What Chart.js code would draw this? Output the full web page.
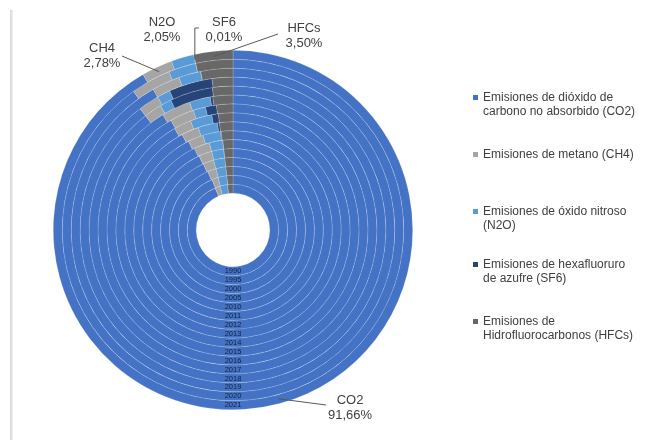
<!DOCTYPE html>
<html><head><meta charset="utf-8">
<script src="https://cdn.jsdelivr.net/npm/chart.js@4.4.1/dist/chart.umd.min.js"></script>
<style>
html,body{margin:0;padding:0;background:#fff;}
#wrap{position:relative;width:667px;height:440px;overflow:hidden;background:#fff;font-family:"Liberation Sans",Arial,sans-serif;}
#edge{position:absolute;left:10px;top:10px;width:3px;height:440px;background:linear-gradient(to right,#d4d4d4,#f2f2f2);}
canvas{position:absolute;left:0;top:0;}
.item{position:absolute;left:473px;font-size:12px;line-height:14px;color:#404040;padding-left:10px;white-space:nowrap;}
.item i{position:absolute;left:0;top:5px;width:5px;height:5px;}
</style></head>
<body><div id="wrap"><div id="edge"></div><canvas id="c" width="667" height="440"></canvas><div id="legend"></div></div>
<script>
// ---- data (percent shares per year) ----
const years = ['1990','1995','2000','2005','2010','2011','2012','2013','2014','2015','2016','2017','2018','2019','2020','2021'];
const gases = ['CO2','CH4','N2O','SF6','HFCs'];
const legendLabels = [
  ['Emisiones de dióxido de','carbono no absorbido (CO2)'],
  ['Emisiones de metano (CH4)'],
  ['Emisiones de óxido nitroso','(N2O)'],
  ['Emisiones de hexafluoruro','de azufre (SF6)'],
  ['Emisiones de','Hidrofluorocarbonos (HFCs)']
];
const hfcs = [1.90,1.80,1.80,1.80,1.80,1.80,1.90,2.00,2.00,2.10,2.40,2.30,2.20,3.20,3.50,3.50];
const sf6  = [0.00,0.00,0.00,0.00,0.02,0.02,0.10,0.30,0.90,1.40,0.30,4.80,4.60,0.01,0.01,0.01];
const n2o  = [2.70,2.60,2.50,2.50,2.40,2.40,2.90,2.90,3.00,1.60,2.50,1.30,1.40,2.20,2.60,2.05];
const ch4  = [1.80,1.90,2.20,2.40,2.60,2.80,2.50,2.60,2.40,3.10,3.50,2.00,2.20,2.80,3.80,2.78];
const co2  = [93.60,93.70,93.50,93.30,93.18,92.98,92.60,92.20,91.70,91.80,91.30,89.60,89.60,91.79,90.09,91.66];

const colors = ['#4472C4','#A5A5A5','#5B9BD5','#264478','#686868'];

// datasets: Chart.js draws the first dataset outermost -> newest year first
const datasets = years.map((y,i)=>({
  label: y,
  data: [co2[i], ch4[i], n2o[i], sf6[i], hfcs[i]],
  backgroundColor: colors,
  borderColor: 'rgba(255,255,255,0.28)',
  borderWidth: 0.6
})).reverse();

// legend (HTML)
const legendTops = [90,147,204,257,314];
const lg = document.getElementById('legend');
legendLabels.forEach((lines,k)=>{
  const d = document.createElement('div');
  d.className='item'; d.style.top = legendTops[k]+'px';
  d.innerHTML = '<i style="background:'+colors[k]+'"></i>'+lines.join('<br>');
  lg.appendChild(d);
});

const fmt = v => v.toFixed(2).replace('.',',')+'%';
// callout text positions (layout), anchors come from arcs
const callouts = {
  0:{x:350,y:400,line:'straight',from:[326,405]},
  1:{x:102,y:48,line:'straight',from:[122,56]},
  2:{x:162,y:22,line:null},
  3:{x:224,y:22,line:'bracket'},
  4:{x:304,y:28,line:'straight',from:[278,34]}
};

const labelPlugin = {
  id:'labels',
  afterDatasetsDraw(chart){
    const ctx = chart.ctx;
    ctx.save();
    // year labels at the bottom of each ring
    ctx.font = '7.5px "Liberation Sans", Arial, sans-serif';
    ctx.fillStyle = '#18223a';
    ctx.textAlign='center'; ctx.textBaseline='middle';
    chart.data.datasets.forEach((ds,di)=>{
      const a = chart.getDatasetMeta(di).data[0];
      const r = (a.innerRadius + a.outerRadius)/2;
      ctx.fillText(ds.label, a.x, a.y + r);
    });
    // callouts for outer ring (latest year)
    const meta = chart.getDatasetMeta(0);
    const last = years.length-1;
    const vals = [co2[last], ch4[last], n2o[last], sf6[last], hfcs[last]];
    ctx.strokeStyle = '#595959'; ctx.lineWidth = 1;
    meta.data.forEach((a,k)=>{
      const c = callouts[k];
      const mid = (a.startAngle + a.endAngle)/2;
      const rr = a.outerRadius - 5;
      const ax = a.x + Math.cos(mid)*rr, ay = a.y + Math.sin(mid)*rr;
      if (c.line==='straight'){
        const f = c.from;
        ctx.beginPath(); ctx.moveTo(f[0],f[1]); ctx.lineTo(ax,ay); ctx.stroke();
      } else if (c.line==='bracket'){
        ctx.beginPath(); ctx.moveTo(ax+4, c.y+6); ctx.lineTo(ax, c.y+6); ctx.lineTo(ax, ay); ctx.stroke();
      }
      ctx.font = '13px "Liberation Sans", Arial, sans-serif';
      ctx.fillStyle = '#404040';
      ctx.fillText(gases[k], c.x, c.y);
      ctx.fillText(fmt(vals[k]), c.x, c.y+15);
    });
    ctx.restore();
  }
};

new Chart(document.getElementById('c'), {
  type:'doughnut',
  data:{ labels: gases, datasets },
  options:{
    responsive:false, animation:false,
    cutout:'20.5%',
    layout:{ padding:{ left:53, right:254, top:50, bottom:30 } },
    plugins:{ legend:{display:false}, tooltip:{enabled:false} }
  },
  plugins:[labelPlugin]
});
</script>
</body></html>
